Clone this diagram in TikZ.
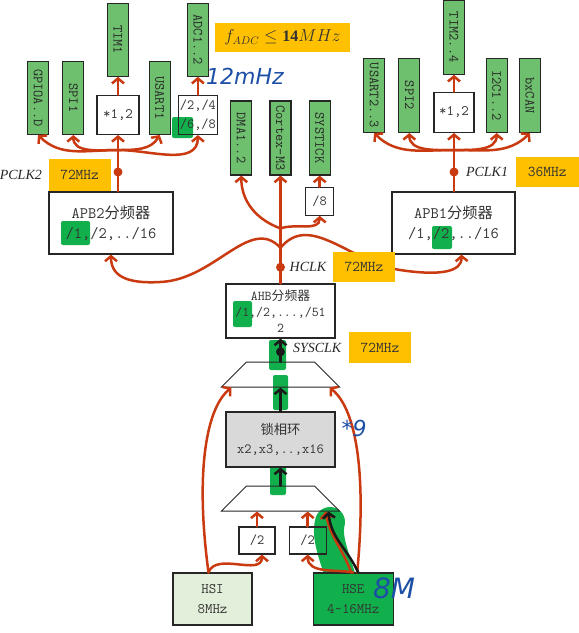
\documentclass[tikz,border=0pt]{standalone}
\usepackage{fontspec}
\setmainfont{Liberation Serif}
\newfontfamily\cjk[Scale=0.95]{Noto Sans CJK SC}
\newfontfamily\hand{DejaVu Sans}
\usetikzlibrary{positioning,arrows.meta,shapes.geometric,calc}
\definecolor{periphgreen}{HTML}{6EBF6E}
\definecolor{tagorange}{HTML}{FFC000}
\definecolor{wirered}{HTML}{C93A10}
\definecolor{markgreen}{HTML}{12B04C}
\definecolor{inkblue}{HTML}{1D4FA6}
\definecolor{hsigreen}{HTML}{E2EFDA}
\definecolor{pllgray}{HTML}{D9D9D9}
\newcommand{\rotlbl}[1]{\rotatebox{-90}{#1}}

\begin{document}
\begin{tikzpicture}[x=1pt,y=-1pt,node distance=13pt,
  periph/.style={rectangle,draw=black!85,fill=periphgreen,line width=1.2pt,minimum width=21pt,minimum height=73pt,inner sep=0pt,text=black!85,font=\fontsize{14}{14}\ttfamily},
  divbox/.style={rectangle,draw=black!85,line width=1.2pt,align=center,inner sep=0pt,text=black!80,font=\fontsize{16}{20}\ttfamily},
  freqtag/.style={rectangle,fill=tagorange,inner sep=0pt,minimum height=30pt,text=black!80,font=\fontsize{15}{15}\ttfamily},
  clkname/.style={text=black!85,font=\fontsize{14}{14}\itshape},
  mux/.style={trapezium,draw=black!85,line width=1pt,trapezium angle=45,inner xsep=34pt,inner ysep=12.5pt},
  wire/.style={-{Straight Barb[length=5pt,width=12pt]},line width=2.5pt,wirered,line cap=round},
  darkwire/.style={wire,black!90},
  hilite/.style={fill=markgreen,rounded corners=2pt},
  ink/.style={text=inkblue,font=\fontsize{22}{22}\hand\itshape}]
\useasboundingbox (0,0) rectangle (579,633);

% marker strokes
\fill[hilite] (61,221) rectangle (90,245);
\fill[hilite] (432,226) rectangle (452,249);
\fill[hilite] (233,301) rectangle (252,327);
\fill[hilite] (172,117) rectangle (193,138);
\fill[hilite] (269,340) rectangle (286,370);
\fill[hilite] (273,375) rectangle (288,410);
\fill[hilite] (270,458) rectangle (286,495);
\draw[markgreen,line width=30pt,line cap=round] (344,588) .. controls (334,555) and (326,538) .. (330,522);

% APB2 peripherals
\node[periph,anchor=south west] (gpio) at (27,135) {\rotlbl{GPIOA..D}};
\node[periph,right=of gpio] (spi1) {\rotlbl{SPI1}};
\node[divbox,minimum width=42pt,minimum height=39pt,right=12pt of spi1.south east,anchor=south west,font=\fontsize{14.5}{14}\ttfamily] (mul1) {*1,2};
\node[periph,right=9pt of mul1.south east,anchor=south west] (usart1) {\rotlbl{USART1}};
\node[divbox,minimum width=39pt,minimum height=39pt,right=7pt of usart1.south east,anchor=south west,font=\fontsize{14}{19}\ttfamily] (adcdiv) {/2,/4\\/6,/8};
\node[periph,above=18pt of mul1] (tim1) {\rotlbl{TIM1}};
\node[periph,above=18pt of adcdiv] (adc) {\rotlbl{ADC1..2}};

% AHB peripherals
\node[periph,minimum height=74pt] (cortex) at (280.5,138) {\rotlbl{Cortex-M3}};
\node[periph,minimum height=74pt,left=17pt of cortex] (dma) {\rotlbl{DMA1..2}};
\node[periph,minimum height=74pt,right=17pt of cortex] (systick) {\rotlbl{SYSTICK}};
\node[divbox,minimum size=28pt,below=11pt of systick,font=\fontsize{14}{14}\ttfamily] (div8) {/8};

% APB1 peripherals
\node[periph,minimum height=74pt,anchor=south west] (usart2) at (363,133) {\rotlbl{USART2..3}};
\node[periph,minimum height=74pt,right=of usart2] (spi2) {\rotlbl{SPI2}};
\node[divbox,minimum size=40pt,right=13pt of spi2.south east,anchor=south west,font=\fontsize{14.5}{14}\ttfamily] (mul2) {*1,2};
\node[periph,minimum height=74pt,right=11pt of mul2.south east,anchor=south west] (i2c) {\rotlbl{I2C1..2}};
\node[periph,minimum height=74pt,right=11pt of i2c] (can) {\rotlbl{bxCAN}};
\node[periph,minimum height=74pt,above=17pt of mul2] (tim2) {\rotlbl{TIM2..4}};

% prescalers and sources
\node[divbox,minimum width=124pt,minimum height=62pt] (apb2) at (111,223) {APB2{\cjk 分频器}\\/1,/2,../16};
\node[divbox,minimum width=123pt,minimum height=62pt] (apb1) at (453.5,223) {APB1{\cjk 分频器}\\/1,/2,../16};
\node[divbox,minimum width=109pt,minimum height=54pt,font=\fontsize{13.5}{16}\ttfamily] (ahb) at (280.5,311) {AHB{\cjk 分频器}\\/1,/2,...,/51\\2};
\node[mux] (mux1) at (280.5,374.5) {};
\node[divbox,fill=pllgray,minimum width=109pt,minimum height=55pt,font=\fontsize{14}{19}\ttfamily] (pll) at (280.5,439.5) {{\cjk 锁相环}\\x2,x3,..,x16};
\node[mux] (mux2) at (280.5,498.5) {};
\node[divbox,minimum width=36pt,minimum height=27pt,font=\fontsize{14}{14}\ttfamily] (half1) at (257,540.5) {/2};
\node[divbox,minimum width=37pt,minimum height=27pt,right=13pt of half1,font=\fontsize{14}{14}\ttfamily] (half2) {/2};
\node[divbox,fill=hsigreen,minimum width=79pt,minimum height=52pt,font=\fontsize{14.5}{20}\ttfamily] (hsi) at (212.5,599) {HSI\\8MHz};
\node[divbox,fill=markgreen,minimum width=80pt,minimum height=52pt,right=60pt of hsi,font=\fontsize{14.5}{20}\ttfamily] (hse) {HSE\\4\textasciitilde16MHz};

% APB2 tree
\coordinate (p2) at ($(mul1.south)+(0,15)$);
\draw[wire] (mul1.south |- apb2.north) -- (mul1.south);
\foreach \t/\o/\i in {gpio/180/-45,spi1/180/-90,usart1/0/-120,adcdiv/0/-90}
  \draw[wire] (p2) to[out=\o,in=\i] (\t.south);
\draw[wire] (mul1.north) -- (tim1.south);
\draw[wire] (adcdiv.north) -- (adc.south);
\fill[wirered] ($(mul1.south)+(0,37)$) circle (4.5pt);

% APB1 tree
\coordinate (p1) at ($(mul2.south)+(0,17)$);
\draw[wire] (mul2.south |- apb1.north) -- (mul2.south);
\foreach \t/\o/\i in {usart2/180/-45,spi2/180/-90,i2c/0/-90,can/0/-135}
  \draw[wire] (p1) to[out=\o,in=\i] (\t.south);
\draw[wire] (mul2.north) -- (tim2.south);
\fill[wirered] ($(mul2.south)+(0,39)$) circle (4.5pt);

% HCLK tree
\coordinate (hc) at ($(ahb.north)!0.33!(cortex.south)$);
\coordinate (hs) at ($(ahb.north)!0.51!(cortex.south)$);
\draw[wire] (ahb.north) -- (cortex.south);
\draw[wire] (hs) to[out=160,in=-90] (dma.south);
\draw[wire] (hs) to[out=20,in=-90] (div8.south);
\draw[wire] (div8.north) -- (systick.south);
\draw[wire] (hc) .. controls (250,215) and (215,280) .. (160,282) .. controls (125,284) and (111,275) .. (apb2.south);
\draw[wire] (hc) .. controls (310,212) and (350,262) .. (400,270) .. controls (440,276) and (462,272) .. ([xshift=8pt]apb1.south);
\fill[wirered] ($(ahb.north)!0.15!(cortex.south)$) circle (4.5pt);

% clock sources
\draw[wire] ([xshift=-4pt]hsi.north) .. controls (196,480) and (204,410) .. ([xshift=-49pt]mux1.south);
\draw[wire] ([xshift=4pt]hse.north) .. controls (366,480) and (358,410) .. ([xshift=49pt]mux1.south);
\draw[wire] ([xshift=-4pt]hsi.north) to[out=70,in=-90] ([xshift=5pt]half1.south);
\draw[wire] (hse.north) to[out=170,in=-90] (half2.south);
\foreach \h in {half1,half2}
  \draw[wire] (\h.north) -- (\h.north |- mux2.south);
\draw[wire] ([xshift=-2pt]hse.north) to[out=110,in=-80] ([xshift=45pt]mux2.south);
\draw[darkwire] ([xshift=5pt]hse.north) to[out=115,in=-85] ([xshift=48pt]mux2.south);
\draw[darkwire] (mux2.north) -- (pll.south);
\draw[darkwire] (pll.north) -- (mux1.south);
\draw[darkwire] (mux1.north) -- (ahb.south);
\fill[black!90] ($(mux1.north)!0.42!(ahb.south)$) circle (4.5pt);

% frequency tags
\node[freqtag,minimum width=135pt,minimum height=29pt,font=\fontsize{16}{16}\selectfont] (fadc) at (282.5,37.5) {$f_{ADC}\leq\mathbf{14}MHz$};
\node[freqtag,minimum width=62pt,minimum height=32pt,anchor=south west] (f2) at (apb2.north west) {72MHz};
\node[clkname,left=3pt of f2] (pclk2) {PCLK2};
\node[freqtag,minimum width=63pt,anchor=south west] (f1) at ([yshift=4pt]apb1.north east) {36MHz};
\node[clkname,left=4pt of f1] (pclk1) {PCLK1};
\node[freqtag,minimum width=62pt] (fh) at (364,267) {72MHz};
\node[clkname,left=3pt of fh] (hclk) {HCLK};
\node[freqtag,minimum width=62pt,minimum height=31pt] (fs) at (380,347.5) {72MHz};
\node[clkname,left=4pt of fs] (sysclk) {SYSCLK};

% handwritten notes
\node[ink] (n12) at (245,76) {12mHz};
\node[ink] (n9) at (354,428) {*9};
\node[ink,font=\fontsize{28}{28}\hand\itshape] (n8) at (394,588) {8M};
\end{tikzpicture}
\end{document}
